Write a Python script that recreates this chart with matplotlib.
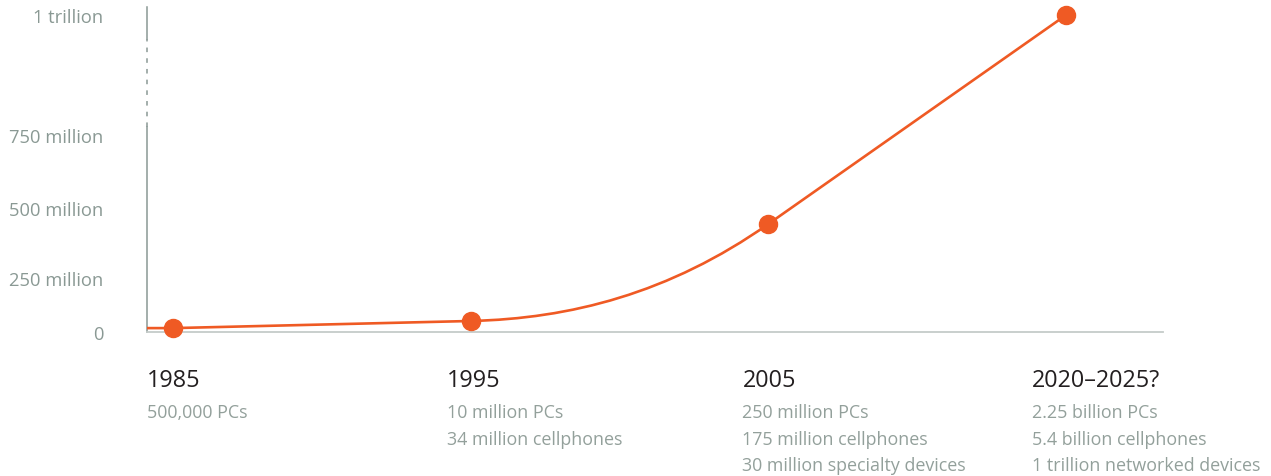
import numpy as np
import matplotlib
matplotlib.use("Agg")
import matplotlib.pyplot as plt
from matplotlib.path import Path
from matplotlib.patches import PathPatch

# data
years = ["1985", "1995", "2005", "2020\u20132025?"]
devices = [18e6, 51e6, 443e6, 1.0e12]
notes = [
    ["500,000 PCs"],
    ["10 million PCs", "34 million cellphones"],
    ["250 million PCs", "175 million cellphones", "30 million specialty devices"],
    ["2.25 billion PCs", "5.4 billion cellphones", "1 trillion networked devices"],
]
tick_vals = [0, 250e6, 500e6, 750e6, 1e12]
tick_labels = ["0", "250 million", "500 million", "750 million", "1 trillion"]

# broken axis: piecewise linear positions for the tick values
tick_pos = [0, 54, 124, 197, 317]
ext_vals = tick_vals + [1.2e12]
ext_pos = tick_pos + [317 + 120 * 0.2e12 / (1e12 - 750e6)]

def fwd(v):
    return np.interp(v, ext_vals, ext_pos)

def inv(p):
    return np.interp(p, ext_pos, ext_vals)

ORANGE = "#ef5a24"
GREY = "#8a9994"
TXT_GREY = "#93a09b"
DARK = "#231f20"

plt.rcParams["font.family"] = ["Open Sans", "DejaVu Sans"]

fig = plt.figure(figsize=(12.71, 4.77), dpi=100)
ax = fig.add_axes([147 / 1271, 144 / 477, 1016 / 1271, 325 / 477])
ax.set_yscale("function", functions=(fwd, inv))
xl, xr = -0.0873, 3.3255
ax.set_xlim(xl, xr)
ax.set_ylim(0, inv(325))

# smooth line: straight lead-in, then cubic segments (tangents = end chords)
x = np.arange(len(devices), dtype=float)
p = fwd(np.array(devices))
m_first = p[1] - p[0]
m_last = p[3] - p[2]
m = [m_first, m_first, m_last, m_last]
verts = [(xl, p[0]), (x[0], p[0])]
codes = [Path.MOVETO, Path.LINETO]
for i in range(len(x) - 1):
    dx = x[i + 1] - x[i]
    verts += [(x[i] + dx / 3, p[i] + m[i] * dx / 3),
              (x[i + 1] - dx / 3, p[i + 1] - m[i + 1] * dx / 3),
              (x[i + 1], p[i + 1])]
    codes += [Path.CURVE4] * 3
verts = [(vx, inv(vy)) for vx, vy in verts]
ax.add_patch(PathPatch(Path(verts, codes), fill=False, edgecolor=ORANGE,
                       lw=1.9, capstyle="butt", zorder=3))
ax.plot(x, devices, "o", color=ORANGE, ms=13, zorder=4, clip_on=False)

# axes lines
for s in ["top", "right", "left"]:
    ax.spines[s].set_visible(False)
ax.spines["bottom"].set_color("#c5cbc9")
ax.spines["bottom"].set_linewidth(1.3)
yax = ax.get_yaxis_transform()
brk_lo, brk_hi = inv(205), inv(293)
ax.plot([0, 0], [0, brk_lo], color=GREY, lw=1.1, transform=yax, clip_on=False)
ax.plot([0, 0], [brk_lo, brk_hi], color=GREY, lw=1.1, ls=(0, (3, 4)),
        transform=yax, clip_on=False)
ax.plot([0, 0], [brk_hi, inv(325)], color=GREY, lw=1.1, transform=yax, clip_on=False)

ax.set_yticks(tick_vals)
ax.set_yticklabels(tick_labels)
ax.yaxis.set_minor_locator(matplotlib.ticker.NullLocator())
ax.tick_params(axis="y", length=0, pad=31.5, labelsize=13.2, labelcolor=GREY)
ax.set_xticks([])

# labels under the axis
xax = ax.get_xaxis_transform()
offsets = [-0.0873, -0.081, -0.0873, -0.114]
for i, (yr, lines) in enumerate(zip(years, notes)):
    ax.text(x[i] + offsets[i], -0.148, yr, transform=xax, ha="left", va="center",
            fontsize=16.8, color=DARK)
    for j, t in enumerate(lines):
        ax.text(x[i] + offsets[i], -0.247 - 0.0815 * j, t, transform=xax,
                ha="left", va="center", fontsize=12.9, color=TXT_GREY)

fig.savefig("out.png", dpi=100)
